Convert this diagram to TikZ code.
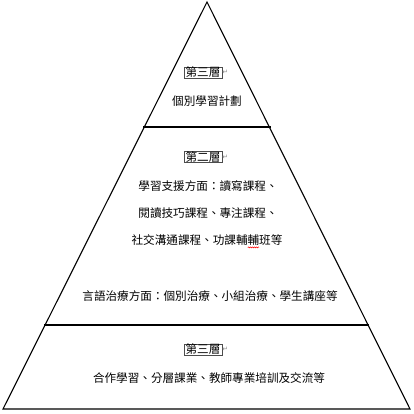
\documentclass[tikz,border=0pt]{standalone}
\usepackage{fontspec}
\setmainfont{Noto Sans CJK TC}
\newfontfamily\symfont{DejaVu Sans}
\usetikzlibrary{decorations.pathmorphing}
\begin{document}
\begin{tikzpicture}[x=1pt,y=-1pt,
  edge/.style={line width=1.1pt,line join=miter},
  txt/.style={inner sep=0pt,font=\fontsize{11.6}{13}\selectfont},
  tag/.style={draw=black!70,line width=0.6pt,inner xsep=1.4pt,inner ysep=0.3pt,font=\fontsize{11.6}{13}\selectfont},
  ret/.style={inner sep=0pt,text=black!45,font=\symfont\fontsize{7}{8}\selectfont,anchor=west}]
\useasboundingbox (0,0) rectangle (414,414);
\coordinate (A) at (207,2);
\coordinate (BL) at (3,409);
\coordinate (BR) at (410,409);
\draw[edge] (A) -- (BL) -- (BR) -- cycle;
\coordinate (L1) at (143.4,127);
\coordinate (R1) at (270.8,127);
\coordinate (L2) at (44.4,325);
\coordinate (R2) at (369.3,325);
\draw[edge] (L1) -- (R1);
\draw[edge] (L2) -- (R2);
% layer 1
\node[tag] (t1) at (203,72.5) {第三層};
\node[ret] (r1) at (t1.east) {↵};
\node[txt] (a1) at (207,101) {個別學習計劃};
% layer 2
\node[tag] (t2) at (203,157) {第二層};
\node[ret] (r2) at (t2.east) {↵};
\node[txt] (b1) at (208,186.5) {學習支援方面：讀寫課程、};
\node[txt] (b2) at (208,213) {閱讀技巧課程、專注課程、};
\node[txt] (b3) at (207,240) {社交溝通課程、功課輔輔班等};
\draw[red,line width=0.5pt,decorate,decoration={snake,amplitude=0.5pt,segment length=2pt}]
  ([xshift=-34.8pt,yshift=-7.4pt]b3.east) -- ([xshift=-23.4pt,yshift=-7.4pt]b3.east);
\node[txt] (b4) at (210,296.5) {言語治療方面：個別治療、小組治療、學生講座等};
% layer 3
\node[tag] (t3) at (203,349.5) {第三層};
\node[ret] (r3) at (t3.east) {↵};
\node[txt] (c1) at (209,378.5) {合作學習、分層課業、教師專業培訓及交流等};
\end{tikzpicture}
\end{document}
